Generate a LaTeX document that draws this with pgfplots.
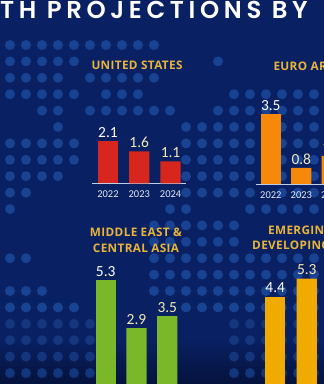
\documentclass[border=0pt]{standalone}
\usepackage{fontspec}
\setmainfont{Carlito}
\newfontfamily\popf{Poppins}[UprightFont={* SemiBold}]
\newfontfamily\opsf{Open Sans}
\usepackage{pgfplots}
\pgfplotsset{compat=1.18}
\definecolor{bg}{RGB}{9,32,98}
\definecolor{bgdark}{RGB}{5,18,60}
\definecolor{dotc}{RGB}{24,66,146}
\definecolor{usred}{RGB}{215,38,30}
\definecolor{euor}{RGB}{247,137,10}
\definecolor{megr}{RGB}{122,184,42}
\definecolor{emye}{RGB}{240,170,0}
\definecolor{gold}{RGB}{232,180,58}
\definecolor{cream}{RGB}{243,233,180}
\definecolor{yearc}{RGB}{230,234,244}
\definecolor{axc}{RGB}{190,205,232}

\pgfplotsset{panel/.style={
 scale only axis, anchor=south west, ybar, bar width=20.3bp, bar shift=0pt,
 xmin=-0.5, xmax=2.5, ymin=0, clip=false,
 axis y line=none, axis x line*=bottom,
 x axis line style={draw=axc, line width=0.7bp},
 xtick={0,1,2}, xticklabels={2022,2023,2024}, major tick length=0pt,
 xtick style={draw=none},
 xticklabel style={font=\fontsize{10.5}{10.5}\selectfont, text=yearc, inner sep=0pt, yshift=-7.5bp},
 nodes near coords,
 every node near coord/.append style={font=\fontsize{15.5}{15.5}\selectfont, inner sep=0pt, yshift=3.5bp, anchor=south},
 /pgf/number format/fixed, /pgf/number format/fixed zerofill, /pgf/number format/precision=1,
 /pgf/number format/assume math mode=true,
}}
\newcommand\ttl{\fontsize{11.8}{11.8}\opsf\bfseries\addfontfeature{LetterSpace=3}}

\begin{document}
\begin{tikzpicture}
\useasboundingbox (0,0) rectangle (324bp,384bp);
\clip (0,0) rectangle (324bp,384bp);
\begin{scope}[x=1bp,y=1bp]
\fill[bg] (0,0) rectangle (324,384);
\shade[top color=bg, bottom color=bgdark] (0,-1) rectangle (324,45);
\foreach \j/\a/\b in {0/0/9, 1/0/4, 1/13/13, 2/0/3, 2/5/9, 3/0/4, 3/6/8, 3/14/20,
  4/2/3, 4/5/10, 4/13/20, 5/3/3, 5/11/20, 6/0/4, 6/11/15, 6/17/20, 7/0/4, 7/11/15, 7/17/20,
  8/0/3, 8/11/15, 8/17/20, 9/0/1, 9/11/15, 9/17/20, 10/0/0, 10/10/11, 10/15/20,
  11/9/14, 12/9/14, 13/0/1, 13/9/20, 14/9/20, 15/0/2, 15/9/20, 16/0/4, 16/11/20}{
  \foreach \i in {\a,...,\b}{
    \fill[dotc] ({10+16*\i},{339-16.4*\j}) circle (5);
  }
}
\foreach \j/\a/\b in {17/0/5, 17/14/20, 18/0/5, 18/14/20, 19/0/5, 19/14/20, 20/0/5, 20/14/20}{
  \foreach \i in {\a,...,\b}{
    \fill[dotc!75!bgdark] ({10+16*\i},{339-16.4*\j}) circle (5);
  }
}
\node[anchor=base west, inner sep=0, text=white,
  font=\fontsize{24.5}{25}\popf\addfontfeature{LetterSpace=19}] at (0,366) {TH PROJECTIONS BY};
\node[anchor=base, inner sep=0, text=gold, font=\ttl] at (137,315) {UNITED STATES};
\node[anchor=base west, inner sep=0, text=gold, font=\ttl] at (273.3,314) {EURO AREA};
\node[anchor=base, inner sep=0, text=gold, font=\ttl] at (136,147.3) {MIDDLE EAST \&};
\node[anchor=base, inner sep=0, text=gold, font=\ttl] at (136,131.3) {CENTRAL ASIA};
\node[anchor=base west, inner sep=0, text=gold, font=\ttl] at (268,150) {EMERGING \&};
\node[anchor=base west, inner sep=0, text=gold, font=\ttl] at (252,134.7) {DEVELOPING ASIA};
\end{scope}

% United States
\begin{axis}[panel, at={(92.3bp,200.7bp)}, width=93.9bp, height=60bp, ymax=3]
\addplot[fill=usred, draw=none, nodes near coords style={text=white}] coordinates {(0,2.1)};
\addplot[fill=usred, draw=none, nodes near coords style={text=cream}] coordinates {(1,1.6) (2,1.1)};
\end{axis}
% Euro area
\begin{axis}[panel, at={(255.55bp,200bp)}, width=91.5bp, height=80bp, ymax=4]
\addplot[fill=euor, draw=none, nodes near coords style={text=white}] coordinates {(0,3.5)};
\addplot[fill=euor, draw=none, nodes near coords style={text=cream}] coordinates {(1,0.8) (2,1.4)};
\end{axis}
% Middle East & Central Asia
\begin{axis}[panel, at={(90.3bp,-2bp)}, width=92.4bp, height=120bp, ymax=6]
\addplot[fill=megr, draw=none, nodes near coords style={text=white}] coordinates {(0,5.3)};
\addplot[fill=megr, draw=none, nodes near coords style={text=cream}] coordinates {(1,2.9) (2,3.5)};
\end{axis}
% Emerging & Developing Asia
\begin{axis}[panel, at={(259.4bp,-0.5bp)}, width=94.8bp, height=120bp, ymax=6]
\addplot[fill=emye, draw=none, nodes near coords style={text=white}] coordinates {(0,4.4)};
\addplot[fill=emye, draw=none, nodes near coords style={text=cream}] coordinates {(1,5.3) (2,5.1)};
\end{axis}
\end{tikzpicture}
\end{document}
